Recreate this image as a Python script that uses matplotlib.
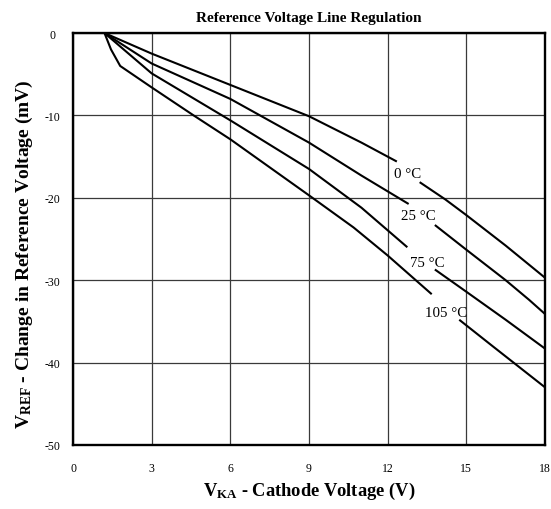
import numpy as np
import matplotlib.pyplot as plt

# Reference voltage line regulation
nan = np.nan
vka_0 = [1.2, 3, 6, 9, 11, 12.35, nan, 13.22, 14.2, 15, 16.5, 18]
dv_0 = [0, -2.5, -6.3, -10.1, -13.3, -15.6, nan, -18.1, -20.2, -22.1, -25.8, -29.7]

vka_25 = [1.2, 3, 6, 9, 11, 12.8, nan, 13.8, 15, 16.5, 17.4, 18]
dv_25 = [0, -3.7, -8.0, -13.3, -17.3, -20.75, nan, -23.3, -26.3, -30.0, -32.4, -34.1]

vka_75 = [1.2, 3, 6, 9, 11, 12.75, nan, 13.8, 15, 16.5, 18]
dv_75 = [0, -4.9, -10.6, -16.5, -21.2, -26.0, nan, -28.7, -31.4, -34.8, -38.3]

vka_105 = [1.2, 1.45, 1.8, 3, 4.6, 6, 9, 10.7, 12, 13.68, nan, 14.73, 16, 18]
dv_105 = [0, -2.0, -4.0, -6.6, -10.0, -12.9, -19.7, -23.6, -27.0, -31.7, nan, -34.8, -38.0, -43.0]

labels = ['0 °C', '25 °C', '75 °C', '105 °C']
label_x = [12.78, 13.17, 13.5, 14.23]
label_y = [-17.1, -22.2, -27.8, -33.9]

xticks = [0, 3, 6, 9, 12, 15, 18]
yticks = [0, -10, -20, -30, -40, -50]

plt.rcParams['font.family'] = ['Liberation Serif', 'DejaVu Serif']
plt.rcParams['mathtext.fontset'] = 'custom'
plt.rcParams['mathtext.rm'] = 'Liberation Serif'
plt.rcParams['mathtext.bf'] = 'Liberation Serif:bold'
plt.rcParams['mathtext.default'] = 'bf'

fig = plt.figure(figsize=(5.51, 5.10), dpi=100)
ax = fig.add_axes([0.1325, 0.1255, 0.8566, 0.8078])

for xs, ys in [(vka_0, dv_0), (vka_25, dv_25), (vka_75, dv_75), (vka_105, dv_105)]:
    ax.plot(xs, ys, color='black', linewidth=1.5, solid_capstyle='butt')

for t, x, y in zip(labels, label_x, label_y):
    ax.text(x, y, t, fontsize=10.7, ha='center', va='center')

ax.set_xlim(0, 18)
ax.set_ylim(-50, 0)
ax.set_xticks(xticks)
ax.set_yticks(yticks)
ax.set_xticklabels([str(v) for v in xticks])
ax.set_yticklabels([str(v) for v in yticks], ha='center')
ax.tick_params(axis='x', length=0, pad=12, labelsize=8.5)
ax.tick_params(axis='y', length=0, pad=15, labelsize=8.5)
ax.grid(True, color='#3a3a3a', linewidth=0.9)
ax.set_axisbelow(True)
for s in ax.spines.values():
    s.set_linewidth(1.7)

ax.set_title('Reference Voltage Line Regulation', fontsize=11,
             fontweight='bold', pad=9)
ax.set_xlabel(r'V$_{KA}$ - Cathode Voltage (V)', fontsize=13.3,
              fontweight='bold', labelpad=4.5)
ax.set_ylabel(r'V$_{REF}$ - Change in Reference Voltage (mV)', fontsize=14,
              fontweight='bold')
ax.yaxis.set_label_coords(-0.08, 0.466)

fig.savefig('out.png', dpi=100)
